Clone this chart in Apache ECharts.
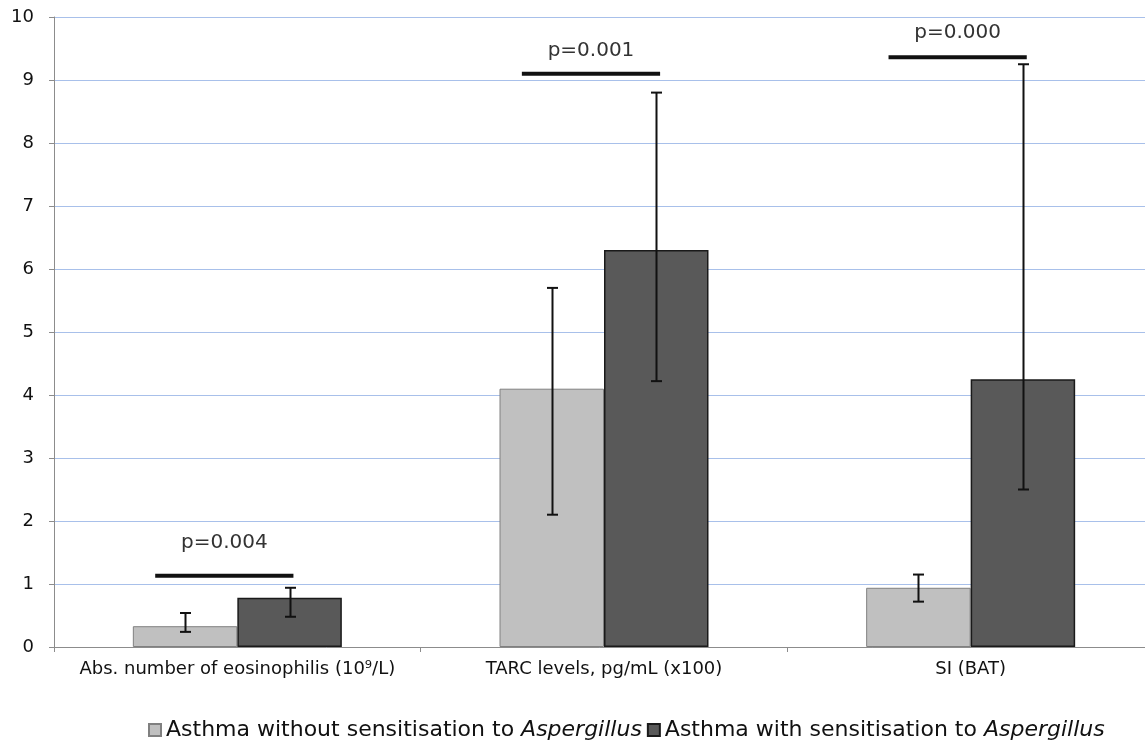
<!DOCTYPE html>
<html>
<head>
<meta charset="utf-8">
<script src="https://cdn.jsdelivr.net/npm/echarts@6/dist/echarts.min.js"></script>
<style>
  html, body { margin: 0; padding: 0; background: #fff; }
  #chart { width: 1145px; height: 744px; }
</style>
</head>
<body>
<div id="chart"></div>
<script>
// categories and values
var categories = ['Abs. number of eosinophilis (10⁹/L)', 'TARC levels, pg/mL (x100)', 'SI (BAT)'];
var seriesNames = ['Asthma without sensitisation to Aspergillus', 'Asthma with sensitisation to Aspergillus'];
var withoutValues = [0.33, 4.1, 0.94];
var withValues = [0.78, 6.3, 4.25];
// error bar ends [high, low]
var withoutErrHigh = [0.54, 5.7, 1.15];
var withoutErrLow = [0.24, 2.1, 0.72];
var withErrHigh = [0.94, 8.8, 9.25];
var withErrLow = [0.48, 4.22, 2.5];
// significance brackets
var pLabels = ['p=0.004', 'p=0.001', 'p=0.000'];
var pLineValues = [1.13, 9.1, 9.36];
var pTextValues = [1.66, 9.47, 9.75];
var yTicks = [0, 1, 2, 3, 4, 5, 6, 7, 8, 9, 10];

var FONT = 'DejaVu Sans';

var chart = echarts.init(document.getElementById('chart'));

function errorData(hi, lo) {
  return categories.map(function (c, i) { return [i, hi[i], lo[i]]; });
}

function errorRender(sign) {
  return function (params, api) {
    var cat = api.value(0);
    var top = api.coord([cat, api.value(1)]);
    var bot = api.coord([cat, api.value(2)]);
    var catW = api.size([1, 0])[0];
    var x = Math.round(top[0] + sign * catW * 0.1425) + 0.5;
    var cap = 5.5;
    var style = { stroke: '#111', lineWidth: 2 };
    return {
      type: 'group',
      children: [
        { type: 'line', shape: { x1: x, y1: top[1], x2: x, y2: bot[1] }, style: style },
        { type: 'line', shape: { x1: x - cap, y1: top[1], x2: x + cap, y2: top[1] }, style: style },
        { type: 'line', shape: { x1: x - cap, y1: bot[1], x2: x + cap, y2: bot[1] }, style: style }
      ]
    };
  };
}

var pData = categories.map(function (c, i) { return [i, pLineValues[i], pTextValues[i]]; });

chart.setOption({
  animation: false,
  textStyle: { fontFamily: FONT },
  grid: { left: 54, top: 17, height: 630, width: 1100, containLabel: false, outerBoundsMode: 'none' },
  legend: {
    data: seriesNames,
    left: 143,
    top: 714,
    itemWidth: 12,
    itemHeight: 12,
    itemGap: 5,
    icon: 'rect',
    formatter: function (name) {
      return '{n|' + name.replace(' Aspergillus', ' ') + '}{i|Aspergillus}';
    },
    textStyle: {
      rich: {
        n: { fontFamily: FONT, fontSize: 22, color: '#111' },
        i: { fontFamily: FONT, fontSize: 22, color: '#111', fontStyle: 'italic' }
      }
    }
  },
  xAxis: {
    type: 'category',
    data: categories,
    axisLine: { lineStyle: { color: '#8c8c8c', width: 1 } },
    axisTick: { show: true, length: 5, lineStyle: { color: '#8c8c8c' } },
    axisLabel: { color: '#111', fontSize: 18, margin: 13, interval: 0, fontFamily: FONT }
  },
  yAxis: {
    type: 'value',
    min: yTicks[0],
    max: yTicks[yTicks.length - 1],
    interval: 1,
    axisLine: { show: true, lineStyle: { color: '#8c8c8c', width: 1 } },
    axisTick: { show: true, length: 5, lineStyle: { color: '#8c8c8c' } },
    axisLabel: { color: '#111', fontSize: 18, margin: 20, fontFamily: FONT },
    splitLine: { show: true, lineStyle: { color: '#a8c0ea', width: 1 } }
  },
  series: [
    {
      name: seriesNames[0],
      type: 'bar',
      data: withoutValues,
      barGap: '0%',
      barCategoryGap: '43%',
      itemStyle: { color: '#c0c0c0', borderColor: '#808080', borderWidth: 1 }
    },
    {
      name: seriesNames[1],
      type: 'bar',
      data: withValues,
      barGap: '0%',
      barCategoryGap: '43%',
      itemStyle: { color: '#595959', borderColor: '#1a1a1a', borderWidth: 1.5 }
    },
    {
      type: 'custom',
      data: errorData(withoutErrHigh, withoutErrLow),
      encode: { x: 0, y: [1, 2] },
      renderItem: errorRender(-1),
      z: 5
    },
    {
      type: 'custom',
      data: errorData(withErrHigh, withErrLow),
      encode: { x: 0, y: [1, 2] },
      renderItem: errorRender(1),
      z: 5
    },
    {
      type: 'custom',
      data: pData,
      encode: { x: 0, y: [1, 2] },
      z: 6,
      renderItem: function (params, api) {
        var i = api.value(0);
        var line = api.coord([i, api.value(1)]);
        var txt = api.coord([i, api.value(2)]);
        var catW = api.size([1, 0])[0];
        var x1 = line[0] - catW * 0.224;
        var x2 = line[0] + catW * 0.153;
        return {
          type: 'group',
          children: [
            { type: 'line', shape: { x1: x1, y1: line[1], x2: x2, y2: line[1] },
              style: { stroke: '#111', lineWidth: 4 } },
            { type: 'text', x: (x1 + x2) / 2, y: txt[1],
              style: { text: pLabels[params.dataIndex], fill: '#333', fontSize: 20,
                       fontFamily: FONT, align: 'center', verticalAlign: 'middle' } }
          ]
        };
      }
    }
  ]
});
</script>
</body>
</html>
